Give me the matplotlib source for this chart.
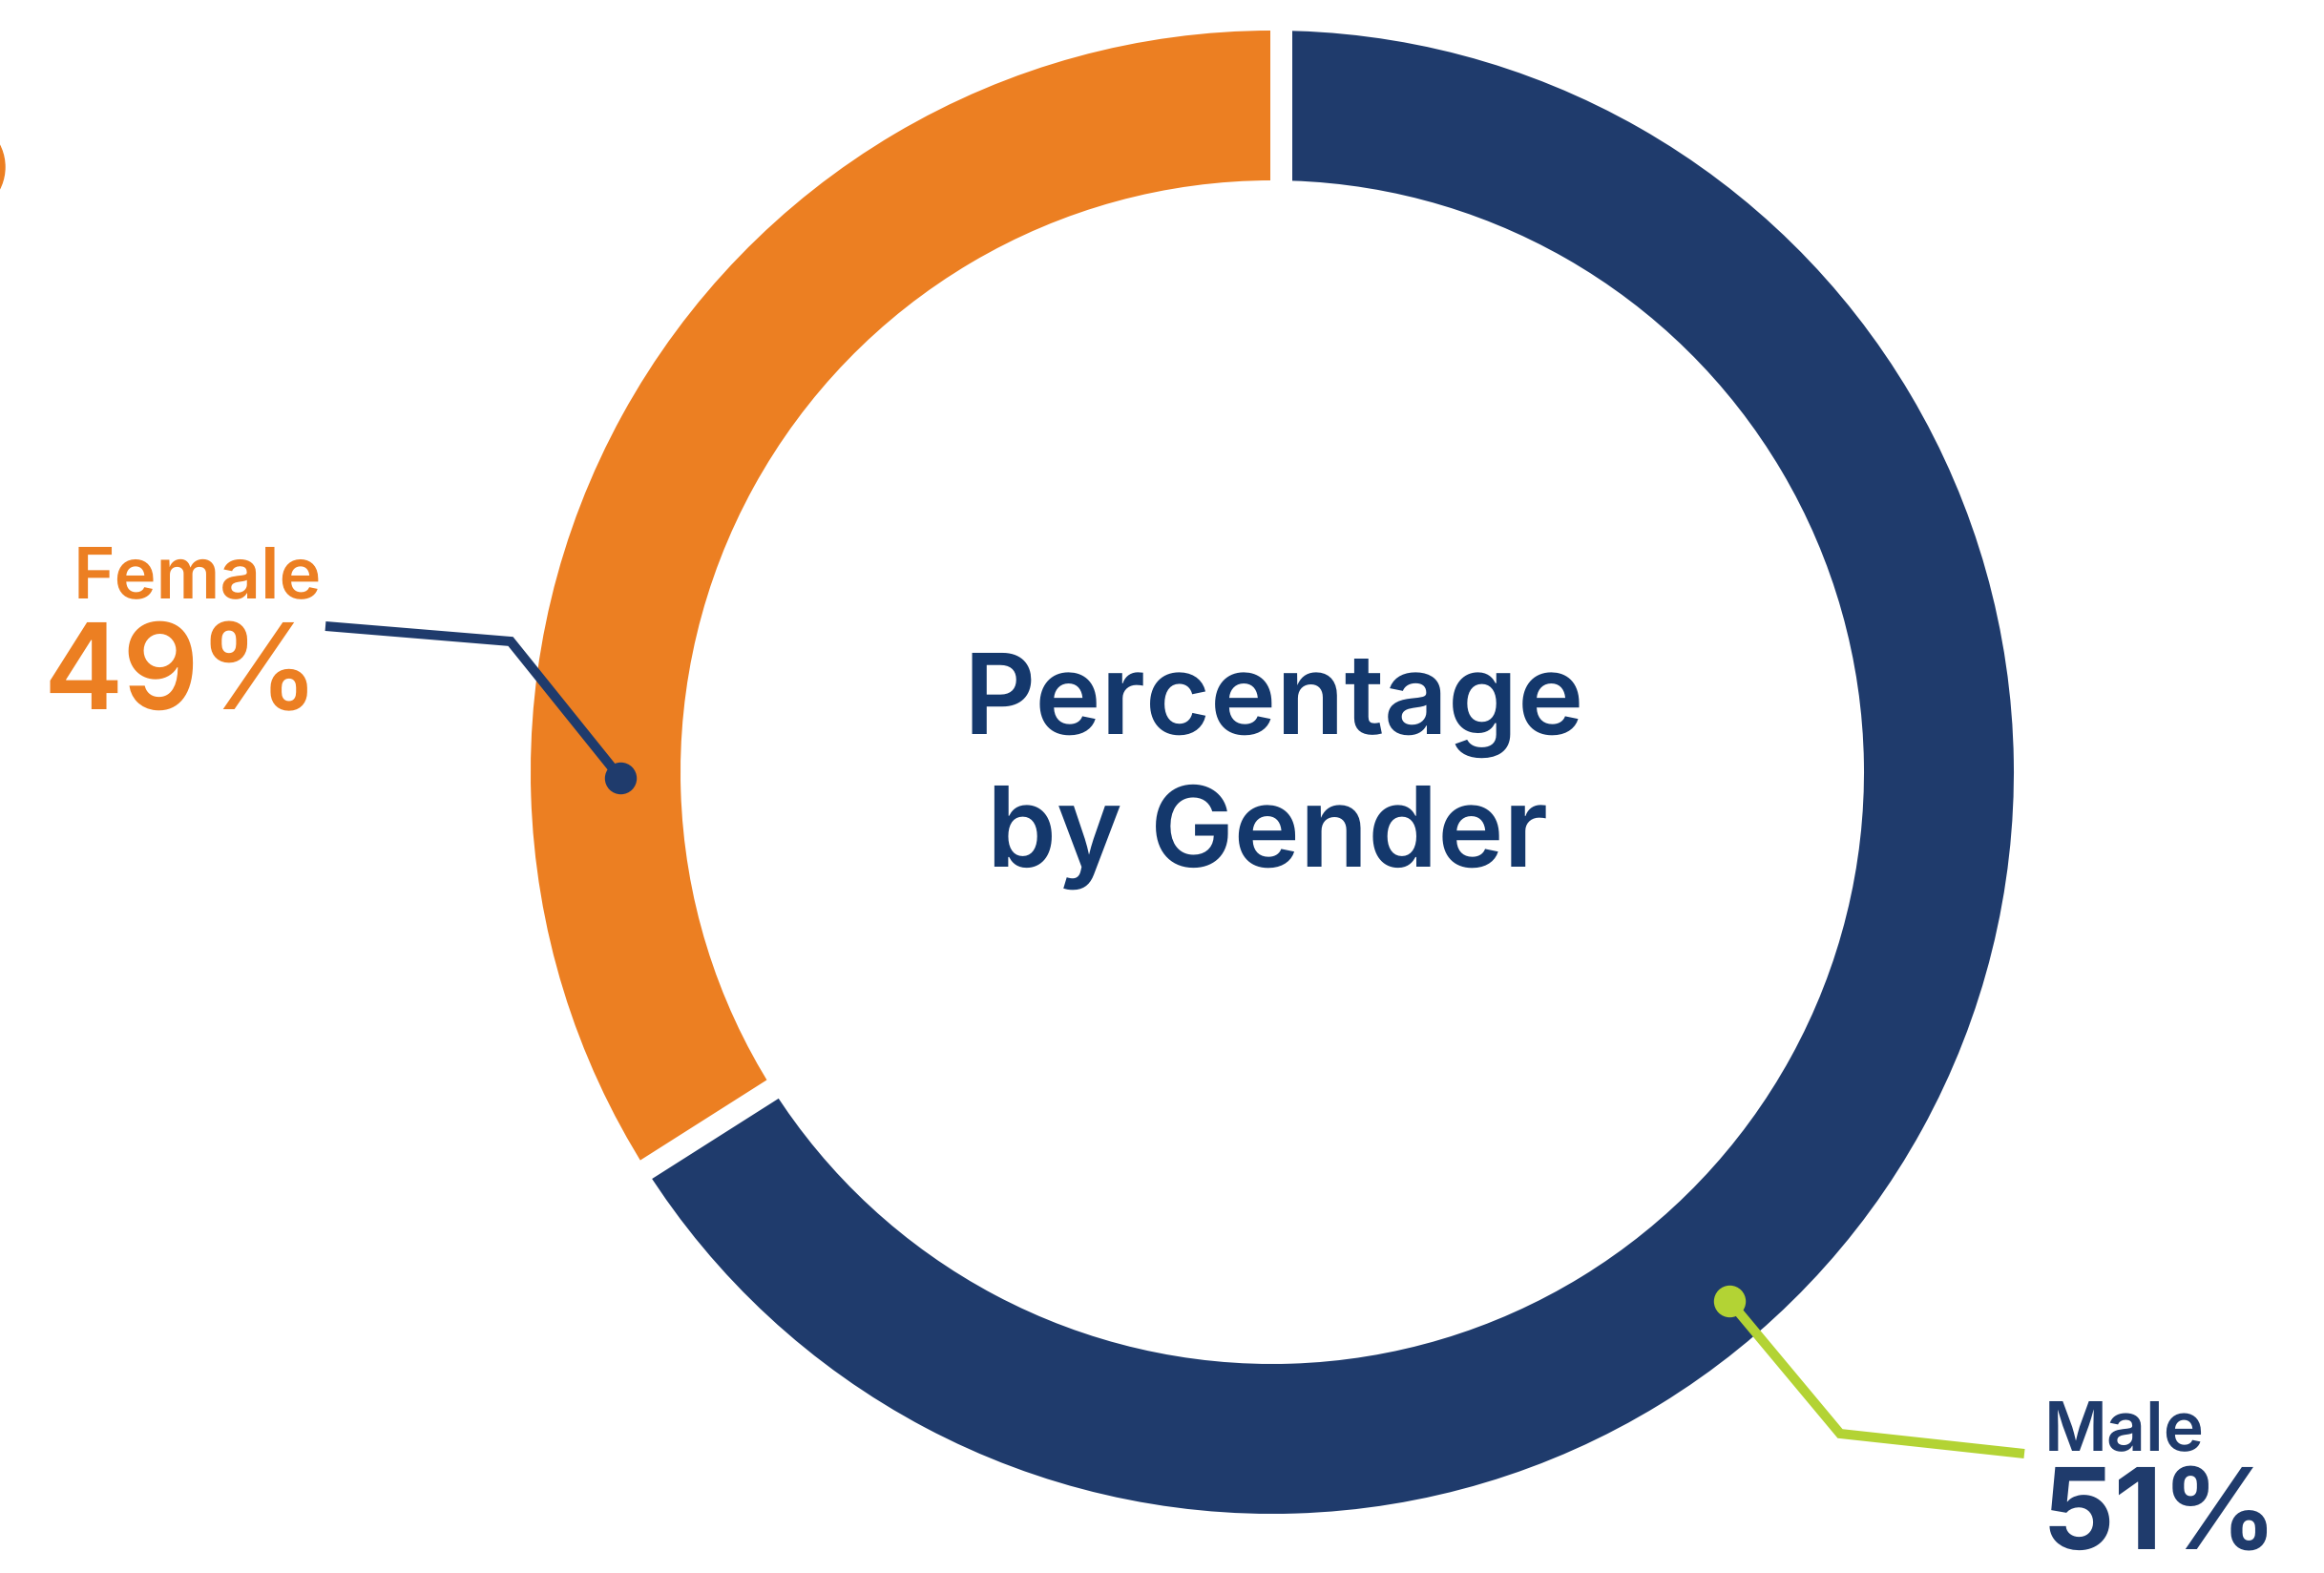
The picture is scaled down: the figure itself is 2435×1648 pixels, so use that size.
import matplotlib
matplotlib.use("Agg")
import matplotlib.pyplot as plt
import numpy as np
from matplotlib.patches import Circle

plt.rcParams["text.hinting"] = "no_hinting"
plt.rcParams["text.hinting_factor"] = 1

# ---- data ----
categories = ["Female", "Male"]
label_pcts = [49, 51]          # printed percentages
ring_share = [34, 66]          # share of the ring actually drawn in the picture
colors = ["#EC7F22", "#1F3B6C"]
title_lines = ["Percentage", "by Gender"]

W, H = 2435, 1648
DPI = 100
fig = plt.figure(figsize=(W / DPI, H / DPI), dpi=DPI)
ax = fig.add_axes([0, 0, 1, 1])

def Y(y):  # pixel row (from top) -> data y
    return H - y

cx, cy = 1333, Y(809)
R_out, R_in = 777, 620

wedges, _ = ax.pie(ring_share, colors=colors, startangle=90, counterclock=True,
                   radius=R_out, center=(cx, cy),
                   wedgeprops=dict(width=R_out - R_in, linewidth=0))

# white gaps at the slice boundaries
bounds = 90 + 360 * np.cumsum([0] + ring_share[:-1]) / sum(ring_share)
gap_offsets = [9, 0]
px2pt = 72 / DPI
for ang, off in zip(bounds, gap_offsets):
    a = np.deg2rad(ang)
    d = np.array([np.cos(a), np.sin(a)])
    n = np.array([d[1], -d[0]])
    p0 = np.array([cx, cy]) + n * off + d * (R_in - 20)
    p1 = np.array([cx, cy]) + n * off + d * (R_out + 20)
    ax.plot([p0[0], p1[0]], [p0[1], p1[1]], color="white", lw=23 * px2pt,
            solid_capstyle="butt", zorder=3)

# small cut-off orange mark at the top-left edge
ax.add_patch(Circle((-46, Y(175)), 51, color="#EC7F22", zorder=2))

FONT = ["Inter", "DejaVu Sans"]
EM = 1.0 / 0.727   # cap height -> em size
title_col = "#14386C"
navy = "#1F3B6C"
orange = "#EC7F22"
green = "#B3D334"

# title
ax.text(1335, Y(769), title_lines[0], ha="center", va="baseline",
        fontsize=85 * EM * px2pt, color=title_col, fontweight="semibold", family=FONT)
ax.text(1328, Y(908), title_lines[1], ha="center", va="baseline",
        fontsize=85 * EM * px2pt, color=title_col, fontweight="semibold", family=FONT)

# Female label + leader
ax.text(337, Y(626), categories[0], ha="right", va="baseline", color=orange,
        fontsize=54 * EM * px2pt, fontweight="semibold", family=FONT)
ax.text(335, Y(743), f"{label_pcts[0]}%", ha="right", va="baseline", color=orange,
        fontsize=91 * EM * px2pt, fontweight="semibold", family=FONT)
fx = [341, 535, 650]
fy = [Y(656), Y(672), Y(815)]
ax.plot(fx, fy, color=navy, lw=10 * px2pt, solid_joinstyle="miter",
        solid_capstyle="butt", zorder=5)
ax.plot(fx[-1], fy[-1], "o", color=navy, ms=32 * px2pt, zorder=6)

# Male label + leader
ax.text(2142, Y(1519), categories[1], ha="left", va="baseline", color=navy,
        fontsize=52 * EM * px2pt, fontweight="semibold", family=FONT)
ax.text(2140, Y(1622), f"{label_pcts[1]}%", ha="left", va="baseline", color=navy,
        fontsize=86 * EM * px2pt, fontweight="bold", family=FONT)
mx = [1812, 1928, 2121]
my = [Y(1363), Y(1502), Y(1523)]
ax.plot(mx, my, color=green, lw=10 * px2pt, solid_joinstyle="miter",
        solid_capstyle="butt", zorder=5)
ax.plot(mx[0], my[0], "o", color=green, ms=32 * px2pt, zorder=6)

ax.set_xlim(0, W)
ax.set_ylim(0, H)
ax.set_aspect("auto")
ax.axis("off")
fig.savefig("out.png", dpi=DPI, facecolor="white")
